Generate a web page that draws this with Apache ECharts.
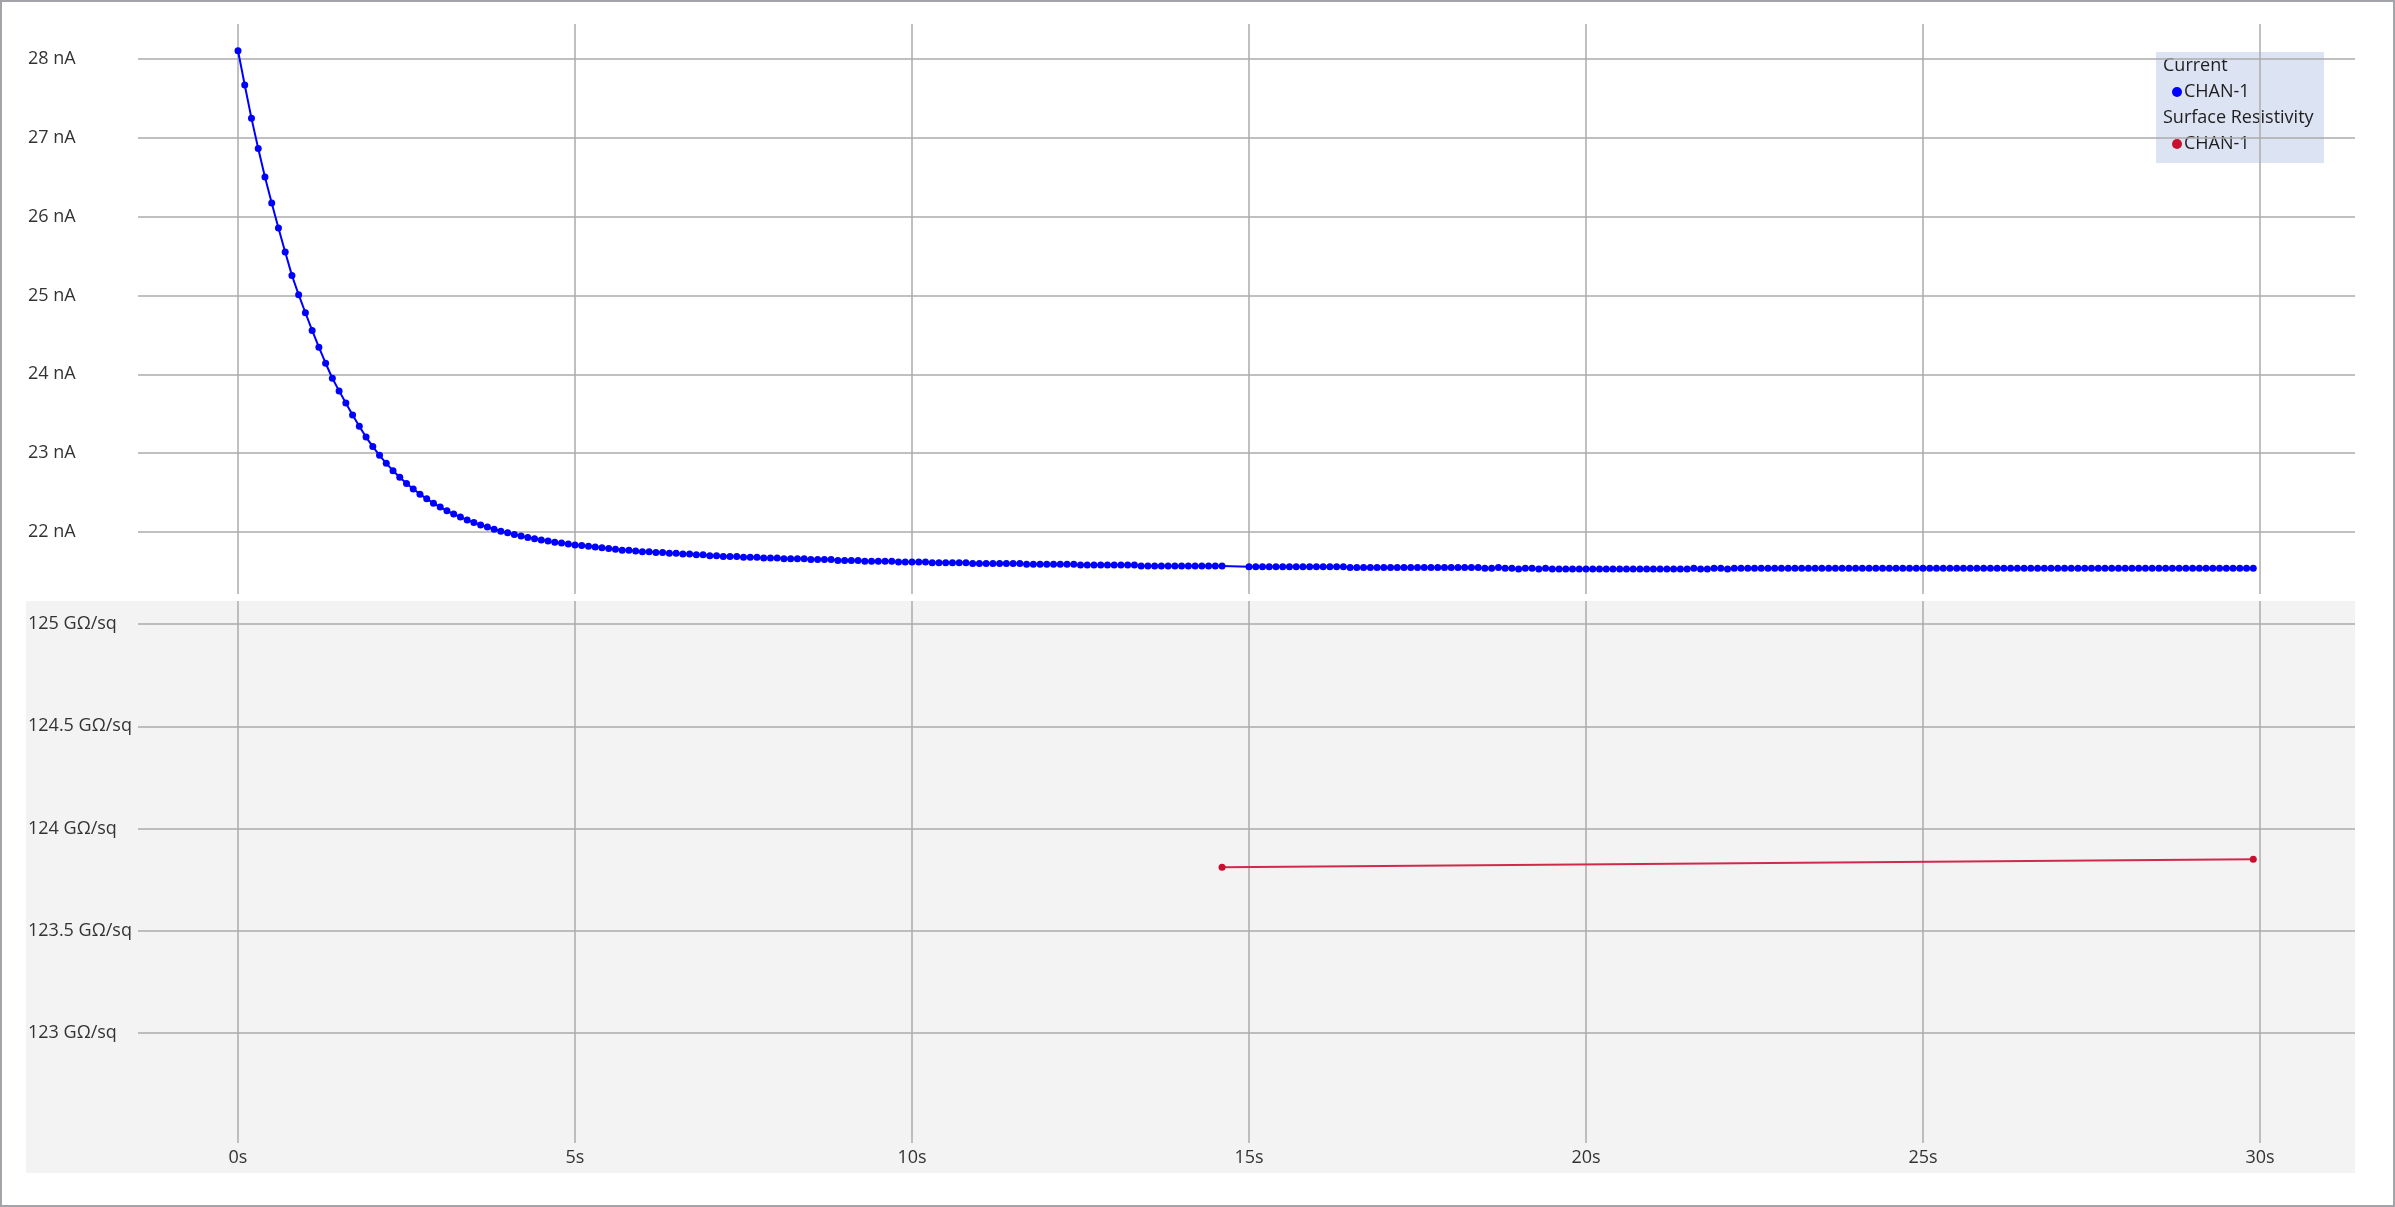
<!DOCTYPE html>
<html><head><meta charset="utf-8">
<script src="https://cdn.jsdelivr.net/npm/echarts@6/dist/echarts.min.js"></script>
<style>html,body{margin:0;padding:0;background:#fff}#c{width:2395px;height:1207px}</style>
</head><body><div id="c"></div>
<script>
// ---------------- DATA ----------------
const currentTimes = [
0,0.1,0.2,0.3,0.4,0.5,0.6,0.7,0.8,0.9,
1,1.1,1.2,1.3,1.4,1.5,1.6,1.7,1.8,1.9,
2,2.1,2.2,2.3,2.4,2.5,2.6,2.7,2.8,2.9,
3,3.1,3.2,3.3,3.4,3.5,3.6,3.7,3.8,3.9,
4,4.1,4.2,4.3,4.4,4.5,4.6,4.7,4.8,4.9,
5,5.1,5.2,5.3,5.4,5.5,5.6,5.7,5.8,5.9,
6,6.1,6.2,6.3,6.4,6.5,6.6,6.7,6.8,6.9,
7,7.1,7.2,7.3,7.4,7.5,7.6,7.7,7.8,7.9,
8,8.1,8.2,8.3,8.4,8.5,8.6,8.7,8.8,8.9,
9,9.1,9.2,9.3,9.4,9.5,9.6,9.7,9.8,9.9,
10,10.1,10.2,10.3,10.4,10.5,10.6,10.7,10.8,10.9,
11,11.1,11.2,11.3,11.4,11.5,11.6,11.7,11.8,11.9,
12,12.1,12.2,12.3,12.4,12.5,12.6,12.7,12.8,12.9,
13,13.1,13.2,13.3,13.4,13.5,13.6,13.7,13.8,13.9,
14,14.1,14.2,14.3,14.4,14.5,14.6,
15,15.1,15.2,15.3,15.4,15.5,15.6,15.7,15.8,15.9,
16,16.1,16.2,16.3,16.4,16.5,16.6,16.7,16.8,16.9,
17,17.1,17.2,17.3,17.4,17.5,17.6,17.7,17.8,17.9,
18,18.1,18.2,18.3,18.4,18.5,18.6,18.7,18.8,18.9,
19,19.1,19.2,19.3,19.4,19.5,19.6,19.7,19.8,19.9,
20,20.1,20.2,20.3,20.4,20.5,20.6,20.7,20.8,20.9,
21,21.1,21.2,21.3,21.4,21.5,21.6,21.7,21.8,21.9,
22,22.1,22.2,22.3,22.4,22.5,22.6,22.7,22.8,22.9,
23,23.1,23.2,23.3,23.4,23.5,23.6,23.7,23.8,23.9,
24,24.1,24.2,24.3,24.4,24.5,24.6,24.7,24.8,24.9,
25,25.1,25.2,25.3,25.4,25.5,25.6,25.7,25.8,25.9,
26,26.1,26.2,26.3,26.4,26.5,26.6,26.7,26.8,26.9,
27,27.1,27.2,27.3,27.4,27.5,27.6,27.7,27.8,27.9,
28,28.1,28.2,28.3,28.4,28.5,28.6,28.7,28.8,28.9,
29,29.1,29.2,29.3,29.4,29.5,29.6,29.7,29.8,29.9
];
const currentValues = [
28.105,27.670,27.247,26.865,26.504,26.174,25.856,25.551,25.255,25.010,
24.781,24.557,24.344,24.141,23.950,23.790,23.635,23.485,23.340,23.204,
23.083,22.972,22.871,22.778,22.694,22.616,22.545,22.480,22.421,22.366,
22.316,22.270,22.228,22.189,22.153,22.120,22.090,22.062,22.036,22.011,
21.989,21.968,21.949,21.931,21.915,21.899,21.885,21.871,21.859,21.847,
21.836,21.83,21.82,21.81,21.80,21.79,21.78,21.77,21.77,21.76,
21.75,21.75,21.74,21.74,21.73,21.73,21.72,21.72,21.71,21.71,
21.70,21.70,21.69,21.69,21.69,21.68,21.68,21.68,21.67,21.67,
21.67,21.66,21.66,21.66,21.66,21.65,21.65,21.65,21.65,21.64,
21.64,21.64,21.64,21.63,21.63,21.63,21.63,21.63,21.62,21.62,
21.62,21.62,21.62,21.61,21.61,21.61,21.61,21.61,21.61,21.60,
21.60,21.60,21.60,21.60,21.60,21.60,21.60,21.59,21.59,21.59,
21.59,21.59,21.59,21.59,21.59,21.58,21.58,21.58,21.58,21.58,
21.58,21.58,21.58,21.58,21.57,21.57,21.57,21.57,21.57,21.57,
21.57,21.57,21.57,21.57,21.57,21.57,21.57,
21.56,21.56,21.56,21.56,21.56,21.56,21.56,21.56,21.56,21.56,
21.56,21.56,21.56,21.56,21.56,21.55,21.55,21.55,21.55,21.55,
21.55,21.55,21.55,21.55,21.55,21.55,21.55,21.55,21.55,21.55,
21.55,21.55,21.55,21.55,21.55,21.54,21.54,21.55,21.54,21.54,
21.53,21.54,21.54,21.53,21.54,21.53,21.53,21.53,21.53,21.53,
21.53,21.53,21.53,21.53,21.53,21.53,21.53,21.53,21.53,21.53,
21.53,21.53,21.53,21.53,21.53,21.53,21.54,21.53,21.53,21.54,
21.54,21.53,21.54,21.54,21.54,21.54,21.54,21.54,21.54,21.54,
21.54,21.54,21.54,21.54,21.54,21.54,21.54,21.54,21.54,21.54,
21.54,21.54,21.54,21.54,21.54,21.54,21.54,21.54,21.54,21.54,
21.54,21.54,21.54,21.54,21.54,21.54,21.54,21.54,21.54,21.54,
21.54,21.54,21.54,21.54,21.54,21.54,21.54,21.54,21.54,21.54,
21.54,21.54,21.54,21.54,21.54,21.54,21.54,21.54,21.54,21.54,
21.54,21.54,21.54,21.54,21.54,21.54,21.54,21.54,21.54,21.54,
21.54,21.54,21.54,21.54,21.54,21.54,21.54,21.54,21.54,21.54
];
const resistTimes = [14.6, 29.9];
const resistValues = [123.81, 123.85];
const xTicks = [0, 5, 10, 15, 20, 25, 30];
const currentTicks = [22, 23, 24, 25, 26, 27, 28];
const resistTicks = [123, 123.5, 124, 124.5, 125];
const xUnit = 's';
const currentUnit = 'nA';
const resistUnit = 'GΩ/sq';
const legendTitles = ['Current', 'Surface Resistivity'];
const legendNames = ['CHAN-1', 'CHAN-1'];

// ---------------- STYLE / LAYOUT ----------------
const FONT = "'Open Sans', 'Noto Sans', sans-serif";
const LABEL_C = '#333333';
const GRID_C = '#ababab';
const BLUE = '#0000ff';
const RED = '#c8102e';

// pixel layout
const plotL = 238, plotR = 2260;             // x of first / last x tick
const rowL = 138, rowR = 2355;               // horizontal gridline extent
const topPanel = {top: 24, bottom: 594};
const topRows = {top: 59, bottom: 532};      // rows for max / min tick
const botPanel = {top: 601, bottom: 1143};
const botRows = {top: 624, bottom: 1033};
const W = 2395, H = 1207;

function yRange(ticks, rows, panel) {
  const lo = ticks[0], hi = ticks[ticks.length - 1];
  const per = (hi - lo) / (rows.bottom - rows.top);
  return {min: lo - (panel.bottom - rows.bottom) * per, max: hi + (rows.top - panel.top) * per};
}
const topRange = yRange(currentTicks, topRows, topPanel);
const botRange = yRange(resistTicks, botRows, botPanel);

const xStep = xTicks[1] - xTicks[0];
const axisFont = {color: LABEL_C, fontSize: 18, fontFamily: FONT};
const splitLine = {show: true, lineStyle: {color: GRID_C, width: 1.5}};

function fmt(unit) { return v => (Math.round(v * 100) / 100) + ' ' + unit; }

const chart = echarts.init(document.getElementById('c'), null, {renderer: 'canvas'});
const option = {
  animation: false,
  backgroundColor: '#ffffff',
  grid: [
    {left: plotL, right: W - plotR, top: topPanel.top, height: topPanel.bottom - topPanel.top},
    {left: rowL, right: W - rowR, top: topRows.top, height: topRows.bottom - topRows.top},
    {left: plotL, right: W - plotR, top: botPanel.top, height: botPanel.bottom - botPanel.top},
    {left: rowL, right: W - rowR, top: botRows.top, height: botRows.bottom - botRows.top}
  ],
  xAxis: [
    {gridIndex: 0, type: 'value', min: xTicks[0], max: xTicks[xTicks.length - 1], interval: xStep,
     axisLine: {show: false}, axisTick: {show: false}, axisLabel: {show: false}, splitLine: splitLine},
    {gridIndex: 1, type: 'value', show: false, min: 0, max: 1},
    {gridIndex: 2, type: 'value', min: xTicks[0], max: xTicks[xTicks.length - 1], interval: xStep,
     axisLine: {show: false}, axisTick: {show: false},
     axisLabel: Object.assign({show: true, margin: 6, formatter: v => v + xUnit}, axisFont),
     splitLine: splitLine},
    {gridIndex: 3, type: 'value', show: false, min: 0, max: 1}
  ],
  yAxis: [
    {gridIndex: 0, type: 'value', show: false, min: topRange.min, max: topRange.max},
    {gridIndex: 1, type: 'value', min: currentTicks[0], max: currentTicks[currentTicks.length - 1],
     interval: currentTicks[1] - currentTicks[0],
     axisLine: {show: false}, axisTick: {show: false},
     axisLabel: Object.assign({align: 'left', margin: rowL - 28, formatter: fmt(currentUnit)}, axisFont),
     splitLine: splitLine},
    {gridIndex: 2, type: 'value', show: false, min: botRange.min, max: botRange.max},
    {gridIndex: 3, type: 'value', min: resistTicks[0], max: resistTicks[resistTicks.length - 1],
     interval: resistTicks[1] - resistTicks[0],
     axisLine: {show: false}, axisTick: {show: false},
     axisLabel: Object.assign({align: 'left', margin: rowL - 28, formatter: fmt(resistUnit)}, axisFont),
     splitLine: splitLine}
  ],
  series: [
    {name: legendTitles[0], type: 'line', xAxisIndex: 0, yAxisIndex: 0,
     data: currentTimes.map((t, i) => [t, currentValues[i]]),
     symbol: 'circle', symbolSize: 7, showSymbol: true, showAllSymbol: true,
     lineStyle: {color: BLUE, width: 2}, itemStyle: {color: BLUE}, z: 3},
    {name: legendTitles[1], type: 'line', xAxisIndex: 2, yAxisIndex: 2,
     data: resistTimes.map((t, i) => [t, resistValues[i]]),
     symbol: 'circle', symbolSize: 7, showSymbol: true,
     lineStyle: {color: '#cf2a4c', width: 2}, itemStyle: {color: RED}, z: 3}
  ],
  graphic: [
    {type: 'rect', silent: true, z: -10,
     shape: {x: 26, y: botPanel.top, width: rowR - 26, height: 1173 - botPanel.top},
     style: {fill: '#f3f3f3'}},
    {type: 'rect', silent: true, z: 50,
     shape: {x: 1, y: 1, width: W - 2, height: H - 2},
     style: {fill: 'none', stroke: '#a3a3aa', lineWidth: 2}},
    {type: 'group', z: 60, children: [
      {type: 'rect', shape: {x: 2156, y: 52, width: 168, height: 111},
       style: {fill: '#dce3f3'}},
      {type: 'text', style: {x: 2163, y: 66, text: legendTitles[0], fill: '#1e1e1e',
        font: "18px " + FONT, verticalAlign: 'middle'}},
      {type: 'circle', shape: {cx: 2177, cy: 92, r: 5}, style: {fill: BLUE}},
      {type: 'text', style: {x: 2184, y: 92, text: legendNames[0], fill: '#1e1e1e',
        font: "18px " + FONT, verticalAlign: 'middle'}},
      {type: 'text', style: {x: 2163, y: 118, text: legendTitles[1], fill: '#1e1e1e',
        font: "18px " + FONT, verticalAlign: 'middle'}},
      {type: 'circle', shape: {cx: 2177, cy: 144, r: 5}, style: {fill: RED}},
      {type: 'text', style: {x: 2184, y: 144, text: legendNames[1], fill: '#1e1e1e',
        font: "18px " + FONT, verticalAlign: 'middle'}}
    ]}
  ]
};
chart.setOption(option);
</script>
</body></html>
